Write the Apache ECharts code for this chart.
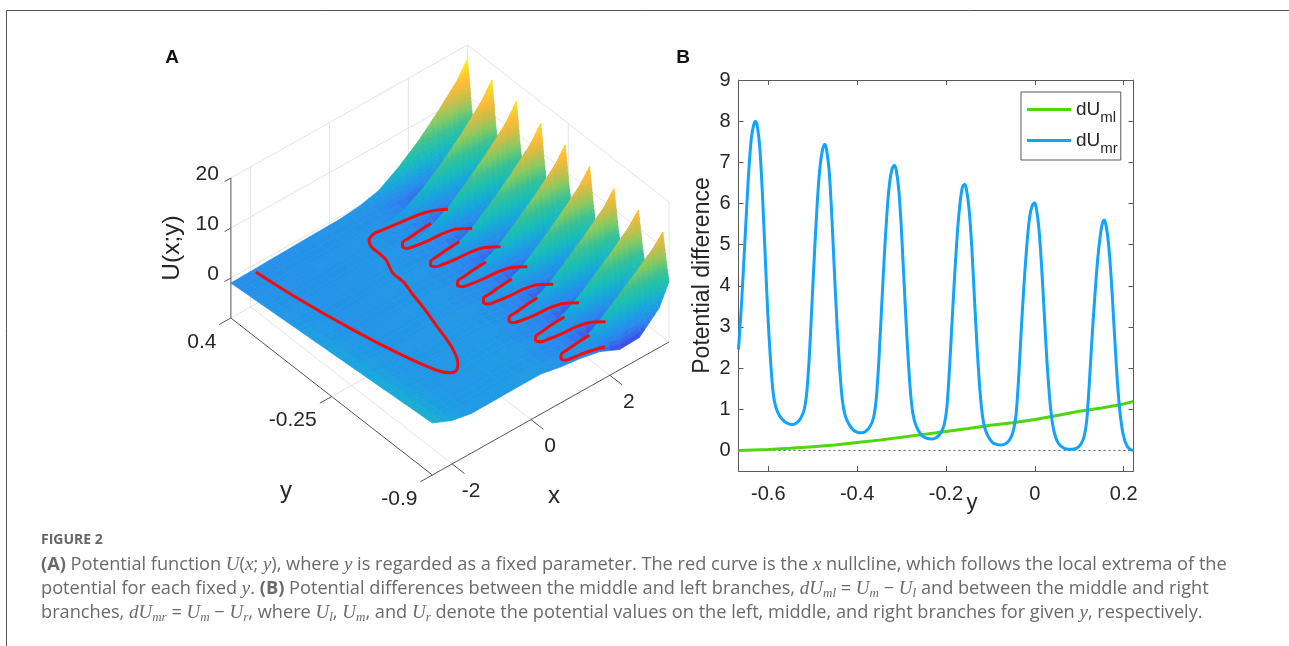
<!DOCTYPE html>
<html>
<head>
<meta charset="utf-8">
<style>
  html, body { margin: 0; padding: 0; background: #fff; }
  #chart { width: 1289px; height: 646px; }
</style>
<script src="https://cdn.jsdelivr.net/npm/echarts@6/dist/echarts.min.js"></script>
</head>
<body>
<div id="chart"></div>
<script>
// Panel B values
const yValues = [-0.667,-0.66,-0.652,-0.645,-0.638,-0.633,-0.629,-0.625,-0.619,-0.613,-0.607,-0.601,-0.595,-0.589,-0.583,-0.575,-0.565,-0.555,-0.547,-0.537,-0.527,-0.519,-0.513,-0.507,-0.501,-0.495,-0.489,-0.483,-0.477,-0.473,
  -0.469,-0.463,-0.457,-0.451,-0.445,-0.439,-0.433,-0.427,-0.419,-0.409,-0.399,-0.391,-0.381,-0.371,-0.363,-0.357,-0.351,-0.345,-0.339,-0.333,-0.327,-0.321,-0.316,
  -0.312,-0.306,-0.3,-0.294,-0.288,-0.282,-0.276,-0.27,-0.262,-0.252,-0.242,-0.232,-0.222,-0.212,-0.204,-0.198,-0.192,-0.186,-0.18,-0.174,-0.168,-0.163,-0.158,
  -0.154,-0.148,-0.142,-0.136,-0.13,-0.124,-0.118,-0.112,-0.104,-0.094,-0.084,-0.076,-0.066,-0.056,-0.048,-0.042,-0.036,-0.03,-0.024,-0.018,-0.012,-0.006,-0.001,
  0.003,0.009,0.015,0.021,0.027,0.033,0.039,0.045,0.053,0.063,0.073,0.083,0.093,0.103,0.111,0.117,0.123,0.129,0.135,0.141,0.147,0.152,0.156,
  0.16,0.166,0.172,0.178,0.184,0.19,0.196,0.202,0.208,0.214,0.222]
const dUmr = [2.45,3.6,5.2,6.6,7.6,7.9,8,7.9,7.35,6.2,4.75,3.3,2.2,1.4,1.05,0.85,0.72,0.65,0.63,0.66,0.78,1,1.45,2.4,3.7,5,6.15,6.95,7.35,7.44,
  7.32,6.8,5.7,4.3,3,1.95,1.2,0.85,0.65,0.5,0.44,0.43,0.46,0.58,0.8,1.25,2.2,3.45,4.7,5.75,6.5,6.85,6.93,
  6.82,6.3,5.3,4,2.75,1.7,1,0.68,0.48,0.34,0.29,0.28,0.31,0.42,0.63,1.05,2,3.2,4.35,5.35,6.05,6.4,6.47,
  6.35,5.85,4.95,3.7,2.5,1.5,0.85,0.52,0.32,0.18,0.14,0.13,0.16,0.27,0.5,0.9,1.85,3.05,4.1,5,5.65,5.95,6.02,
  5.9,5.4,4.5,3.35,2.2,1.3,0.7,0.38,0.17,0.07,0.03,0.03,0.05,0.14,0.35,0.75,1.7,2.8,3.75,4.6,5.2,5.52,5.6,
  5.48,5,4.15,3.05,1.95,1.1,0.55,0.25,0.1,0.03,0]
const mlY = [-0.667,-0.6,-0.55,-0.5,-0.45,-0.4,-0.35,-0.3,-0.25,-0.2,-0.15,-0.1,-0.05,0,0.05,0.1,0.15,0.2,0.222]
const dUml = [0,0.02,0.05,0.09,0.13,0.19,0.25,0.32,0.39,0.46,0.53,0.61,0.67,0.75,0.85,0.95,1.03,1.13,1.19]
const bTicksX = [-0.6,-0.4,-0.2,0,0.2]
const bTicksY = [0,1,2,3,4,5,6,7,8,9]

// Panel A surface: U(x;y) read along each fin crest and along the sheet edges
const gridX = [-2.5,-2,-1.5,-0.5,0.25,0.75,1.25,1.75,2.25,2.75,3.25,3.5]
const farEdgeU = [-1,-0.9,-0.8,-0.6,-0.5,-0.6,-1.2,-2.2,-3,-2.5,0,3.5]
const nearEdgeU = [2.4,0.7,-0.1,0,0,-0.8,-1.4,-2.4,-4.5,-4.5,-0.8,3.5]
const ridgeY = [0.4,0.2425,0.085,-0.0725,-0.23,-0.3875,-0.545,-0.7025,-0.86]
const crestColumn = 5 // ridgeCrestU starts at gridX[5]
const ridgeCrestU = [
  [-0.1,0.9,3.3,6.3,10,14.2,17.3],
  [-0.2,0.6,2.9,6,9.6,13.8,16.8],
  [-0.2,0.5,2.7,5.8,9.3,13.3,16.3],
  [-0.3,0.4,2.5,5.5,8.9,12.8,15.7],
  [-0.3,0.3,2.3,5.3,8.6,12.4,15.2],
  [-0.4,0.2,2.1,5,8.3,12,14.7],
  [-0.4,0.1,1.9,4.8,8,11.5,14.1],
  [-0.5,0,1.8,4.6,7.8,11.2,13.6],
  [-0.6,-0.3,1.6,4.5,7.6,10.8,13]
]
const finOffsetY = [0,-0.012,-0.025,-0.04,-0.07,-0.11,-0.135,-0.148]
const finShare = [1,0.72,0.36,0.06,0,0,0.06,0.35]

// Panel A x nullcline, null where the curve runs behind a fin
const nullclineX = [-1.83,-1.72,-1.49,-1.25,-1.03,-0.875,-0.746,-0.58,-0.36,-0.18,-0.04,0.065,0.159,0.164,0.315,0.339,0.348,0.439,0.641,0.792,1.266,1.728,1.994,2.19,null,
  1.67,1.34,1.05,0.89,0.81,0.84,1.02,1.33,1.66,1.94,2.18,null,
  1.74,1.41,1.12,0.96,0.87,0.91,1.09,1.4,1.72,2.01,2.25,null,
  1.75,1.43,1.14,0.98,0.89,0.93,1.1,1.41,1.74,2.03,2.27,null,
  1.81,1.48,1.19,1.03,0.95,0.98,1.16,1.47,1.8,2.08,2.32,null,
  1.83,1.51,1.22,1.06,0.97,1.01,1.18,1.49,1.82,2.11,2.35,null,
  1.87,1.54,1.25,1.09,1,1.04,1.22,1.53,1.85,2.14,2.38,null,
  1.89,1.57,1.28,1.12,1.03,1.06,1.24,1.55,1.9]
const nullclineY = [0.41,0.185,-0.134,-0.384,-0.549,-0.6,-0.607,-0.576,-0.479,-0.333,-0.22,-0.116,-0.036,0.032,0.115,0.165,0.219,0.257,0.275,0.27,0.257,0.241,0.22,0.192,null,
  0.17,0.165,0.158,0.155,0.135,0.115,0.104,0.094,0.089,0.073,0.034,null,
  0.005,0.001,-0.006,-0.01,-0.03,-0.05,-0.06,-0.07,-0.075,-0.092,-0.131,null,
  -0.164,-0.168,-0.175,-0.179,-0.199,-0.219,-0.229,-0.239,-0.244,-0.261,-0.299,null,
  -0.317,-0.321,-0.328,-0.332,-0.352,-0.372,-0.382,-0.392,-0.397,-0.414,-0.453,null,
  -0.476,-0.481,-0.488,-0.491,-0.511,-0.531,-0.542,-0.552,-0.557,-0.574,-0.612,null,
  -0.64,-0.644,-0.651,-0.655,-0.674,-0.695,-0.705,-0.715,-0.72,-0.737,-0.775,null,
  -0.796,-0.8,-0.807,-0.811,-0.831,-0.851,-0.861,-0.871,-0.894]
const nullclineU = -2

const aTicksX = [-2,0,2]
const aTicksY = [0.4,-0.25,-0.9]
const aTicksU = [0,10,20]

const parula = [[62,38,168],[62,72,228],[43,135,238],[24,165,222],[25,189,186],[56,193,150],[128,203,100],[200,190,75],[252,186,56],[247,214,39],[249,251,20]]

// 3-D box as it sits on the page
function project(x, y, u) {
  const w = (0.4 - y) / 1.3
  const v = (x + 2.5) / 6
  return [230.9 + 201.5 * w + 236.6 * v, 318 + 157 * w - 133 * v - (u + 8) * 5]
}

function colorOf(u) {
  const t = Math.min(0.9999, Math.max(0, (u + 6.2) / 23.6)) * (parula.length - 1)
  const i = Math.floor(t)
  const f = t - i
  const c = parula[i].map((a, n) => Math.round(a + (parula[i + 1][n] - a) * f))
  return `rgb(${c[0]},${c[1]},${c[2]})`
}

function surfaceRows() {
  const rows = []
  ridgeY.forEach((ry, k) => {
    finOffsetY.forEach((off, i) => {
      const y = ry + off
      if (y < -0.9001) return
      const t = (0.4 - y) / 1.3
      rows.push({
        y,
        u: gridX.map((_, c) => {
          const floor = farEdgeU[c] + (nearEdgeU[c] - farEdgeU[c]) * t
          if (c < crestColumn) return floor
          return floor + finShare[i] * Math.max(ridgeCrestU[k][c - crestColumn] - floor, 0)
        })
      })
    })
  })
  return rows
}

// far cells first, so the nearer fins paint over them
function surfaceCells() {
  const rows = surfaceRows()
  const cells = []
  for (let r = 0; r < rows.length - 1; r++) {
    for (let c = gridX.length - 2; c >= 0; c--) {
      const a = rows[r].u
      const b = rows[r + 1].u
      const nx = Math.max(2, Math.min(8, Math.ceil(Math.max(Math.abs(a[c + 1] - a[c]), Math.abs(b[c + 1] - b[c])))))
      const ny = Math.max(1, Math.min(10, Math.ceil(Math.max(Math.abs(a[c] - b[c]), Math.abs(a[c + 1] - b[c + 1])))))
      for (let j = 0; j < ny; j++) {
        for (let i = nx - 1; i >= 0; i--) {
          const at = (p, q) => {
            const s = p / nx
            const m = q / ny
            const u0 = a[c] + (a[c + 1] - a[c]) * s
            const u1 = b[c] + (b[c + 1] - b[c]) * s
            return [gridX[c] + (gridX[c + 1] - gridX[c]) * s, rows[r].y + (rows[r + 1].y - rows[r].y) * m, u0 + (u1 - u0) * m]
          }
          const corners = [at(i, j), at(i + 1, j), at(i + 1, j + 1), at(i, j + 1)]
          const mean = corners.reduce((sum, p) => sum + p[2], 0) / 4
          cells.push({ points: corners.map((p) => project(p[0], p[1], p[2])), color: colorOf(mean) })
        }
      }
    }
  }
  return cells
}

function boxLines(list) {
  const data = []
  list.forEach((seg) => {
    data.push(project(...seg[0]), project(...seg[1]), [NaN, NaN])
  })
  return data
}

const cells = surfaceCells()

const backGrid = []
aTicksU.forEach((u) => {
  backGrid.push([[-2.5, 0.4, u], [3.5, 0.4, u]], [[3.5, 0.4, u], [3.5, -0.9, u]])
})
aTicksX.forEach((x) => {
  backGrid.push([[x, 0.4, -8], [x, 0.4, 20]], [[x, 0.4, -8], [x, -0.9, -8]])
})
backGrid.push([[-2.5, -0.25, -8], [3.5, -0.25, -8]], [[3.5, -0.25, -8], [3.5, -0.25, 20]])
backGrid.push([[-2.5, 0.4, -8], [3.5, 0.4, -8]], [[3.5, 0.4, -8], [3.5, -0.9, -8]], [[3.5, 0.4, -8], [3.5, 0.4, 20]], [[3.5, -0.9, -8], [3.5, -0.9, 20]])

const axisLines = [
  [[-2.5, 0.4, -8], [-2.5, 0.4, 20]],
  [[-2.5, 0.4, -8], [-2.5, -0.9, -8]],
  [[-2.5, -0.9, -8], [3.5, -0.9, -8]]
]
aTicksU.forEach((u) => axisLines.push([[-2.5, 0.4, u], [-2.66, 0.4, u]]))
aTicksX.forEach((x) => axisLines.push([[x, -0.9, -8], [x, -0.98, -8]]))
aTicksY.forEach((y) => axisLines.push([[-2.5, y, -8], [-2.8, y, -8]]))

const textFont = "'Liberation Sans', Arial, sans-serif"
const inkColor = "#262626"
const captionColor = "#6a6a6a"
const axisColor = "#5a5a5a"

function plotText(text, x, y, opts) {
  return {
    type: "text", x, y, silent: true,
    style: Object.assign({ text, fill: inkColor, font: `21px ${textFont}`, align: "center", verticalAlign: "middle" }, opts)
  }
}

const tickTexts = [
  ...aTicksU.map((u) => {
    const p = project(-2.5, 0.4, u)
    return plotText(String(u), p[0] - 12, p[1] - 4, { align: "right" })
  }),
  ...aTicksX.map((x) => {
    const p = project(x, -0.9, -8)
    return plotText(String(x), p[0] + 19, p[1] + 27, {})
  }),
  ...aTicksY.map((y, i) => {
    const p = project(-2.5, y, -8)
    return plotText(String(y), p[0] + [-29, -39, -33][i], p[1] + 24, {})
  })
]

const captionRich = {
  b: { fontFamily: "'Open Sans'", fontWeight: "bold", fontSize: 18.2, color: "#555" },
  m: { fontFamily: "'Liberation Serif'", fontStyle: "italic", fontSize: 19, color: captionColor },
  s: { fontFamily: "'Liberation Serif'", fontStyle: "italic", fontSize: 13, color: captionColor, verticalAlign: "bottom", padding: [9, 0, 0, 0] }
}

function captionLine(text, y) {
  return {
    type: "text", x: 41, y, silent: true,
    style: { text, fill: captionColor, font: "18.2px 'Open Sans'", verticalAlign: "middle", rich: captionRich }
  }
}

const axisLine = { show: true, onZero: false, lineStyle: { color: axisColor } }
const tickStyle = { show: true, inside: true, length: 5, lineStyle: { color: axisColor } }

const option = {
  animation: false,
  backgroundColor: "#fff",
  grid: [
    { left: 0, top: 0, width: 1289, height: 646 },
    { left: 738.5, top: 80, width: 395, height: 391 }
  ],
  xAxis: [
    { gridIndex: 0, type: "value", min: 0, max: 1289, show: false },
    {
      gridIndex: 1, type: "value", min: -0.667, max: 0.222, position: "bottom",
      axisLine,
      axisTick: { ...tickStyle, customValues: bTicksX },
      axisLabel: { customValues: bTicksX, color: inkColor, fontSize: 20, fontFamily: textFont, margin: 13 },
      splitLine: { show: false }
    },
    {
      gridIndex: 1, type: "value", min: -0.667, max: 0.222, position: "top",
      axisLine,
      axisTick: { ...tickStyle, customValues: bTicksX },
      axisLabel: { show: false }, splitLine: { show: false }
    }
  ],
  yAxis: [
    { gridIndex: 0, type: "value", min: 0, max: 646, inverse: true, show: false },
    {
      gridIndex: 1, type: "value", min: -0.5, max: 9, position: "left",
      name: "Potential difference", nameLocation: "middle", nameGap: 24,
      nameTextStyle: { color: inkColor, fontSize: 23, fontFamily: textFont },
      axisLine,
      axisTick: { ...tickStyle, customValues: bTicksY },
      axisLabel: { customValues: bTicksY, color: inkColor, fontSize: 20, fontFamily: textFont, margin: 8 },
      splitLine: { show: false }
    },
    {
      gridIndex: 1, type: "value", min: -0.5, max: 9, position: "right",
      axisLine,
      axisTick: { ...tickStyle, customValues: bTicksY },
      axisLabel: { show: false }, splitLine: { show: false }
    }
  ],
  legend: {
    data: ["dUml", "dUmr"],
    orient: "vertical", left: 1021, top: 92,
    padding: [8, 3, 4, 6],
    itemGap: 6, itemWidth: 44, itemHeight: 3, icon: "rect", itemStyle: { borderWidth: 0 },
    backgroundColor: "#fff", borderColor: axisColor, borderWidth: 1,
    formatter: (name) => `dU{sub|${name.slice(2)}}`,
    textStyle: {
      color: inkColor, fontSize: 19, fontFamily: textFont,
      rich: { sub: { fontSize: 15, fontFamily: textFont, color: inkColor, verticalAlign: "bottom", padding: [16, 0, 0, 0] } }
    }
  },
  series: [
    {
      type: "line", xAxisIndex: 0, yAxisIndex: 0, silent: true, symbol: "none", z: 1,
      lineStyle: { color: "#e4e4e4", width: 1 }, data: boxLines(backGrid)
    },
    {
      type: "custom", xAxisIndex: 0, yAxisIndex: 0, silent: true, z: 2, progressive: 0, clip: false,
      data: cells.map((_, i) => [i]),
      renderItem: (params, api) => {
        const cell = cells[api.value(0)]
        return {
          type: "polygon",
          shape: { points: cell.points.map((p) => api.coord(p)) },
          style: { fill: cell.color, stroke: cell.color, lineWidth: 0.7 }
        }
      }
    },
    {
      type: "line", xAxisIndex: 0, yAxisIndex: 0, silent: true, symbol: "none", z: 3, smooth: 0.3,
      lineStyle: { color: "#f20d0d", width: 3 },
      data: nullclineX.map((x, i) => (x === null ? [NaN, NaN] : project(x, nullclineY[i], nullclineU)))
    },
    {
      type: "line", xAxisIndex: 0, yAxisIndex: 0, silent: true, symbol: "none", z: 4,
      lineStyle: { color: "#555", width: 1 }, data: boxLines(axisLines)
    },
    {
      type: "line", xAxisIndex: 1, yAxisIndex: 1, silent: true, symbol: "none", z: 3,
      lineStyle: { color: "#555", width: 1, type: [2, 3] }, data: [[-0.667, 0], [0.222, 0]]
    },
    {
      name: "dUml", type: "line", xAxisIndex: 1, yAxisIndex: 1, symbol: "none", z: 4, color: "#4fd60c",
      lineStyle: { width: 3 }, data: mlY.map((y, i) => [y, dUml[i]])
    },
    {
      name: "dUmr", type: "line", xAxisIndex: 1, yAxisIndex: 1, symbol: "none", z: 5, smooth: 0.2, color: "#12a3fb",
      lineStyle: { width: 3 }, data: yValues.map((y, i) => [y, dUmr[i]])
    }
  ],
  graphic: [
    { type: "line", silent: true, shape: { x1: 6.5, y1: 10.5, x2: 1289, y2: 10.5 }, style: { stroke: "#555", lineWidth: 1 } },
    { type: "line", silent: true, shape: { x1: 6.5, y1: 10.5, x2: 6.5, y2: 646 }, style: { stroke: "#555", lineWidth: 1 } },
    plotText("A", 172, 58, { font: `bold 19px ${textFont}`, fill: "#111" }),
    plotText("B", 683, 58, { font: `bold 19px ${textFont}`, fill: "#111" }),
    ...tickTexts,
    plotText("y", 286, 491, { font: `24px ${textFont}` }),
    plotText("x", 554, 496, { font: `24px ${textFont}` }),
    { type: "text", x: 172, y: 248, rotation: Math.PI / 2, silent: true, style: { text: "U(x;y)", fill: inkColor, font: `24.5px ${textFont}`, align: "center", verticalAlign: "middle" } },
    plotText("y", 972, 503, { font: `22px ${textFont}` }),
    { type: "text", x: 41, y: 540, silent: true, style: { text: "FIGURE 2", fill: "#666", font: "bold 14px 'Open Sans'", verticalAlign: "middle" } },
    captionLine("{b|(A)} Potential function {m|U}({m|x}; {m|y}), where {m|y} is regarded as a fixed parameter. The red curve is the {m|x} nullcline, which follows the local extrema of the", 565),
    captionLine("potential for each fixed {m|y}. {b|(B)} Potential differences between the middle and left branches, {m|dU}{s|ml} = {m|U}{s|m} − {m|U}{s|l} and between the middle and right", 589),
    captionLine("branches, {m|dU}{s|mr} = {m|U}{s|m} − {m|U}{s|r}, where {m|U}{s|l}, {m|U}{s|m}, and {m|U}{s|r} denote the potential values on the left, middle, and right branches for given {m|y}, respectively.", 613)
  ]
}

const chart = echarts.init(document.getElementById("chart"), null, { renderer: "canvas" })
chart.setOption(option)
</script>
</body>
</html>
